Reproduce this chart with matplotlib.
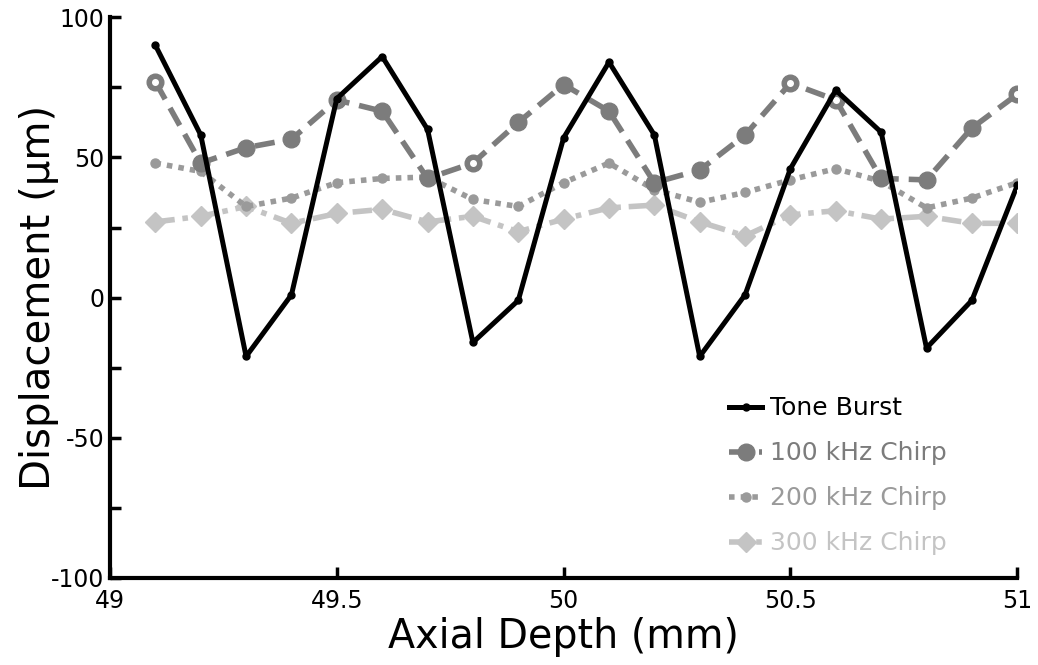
import numpy as np
import matplotlib.pyplot as plt

# Axial positions (mm) and displacement (um) for each excitation
depth = [49.1, 49.2, 49.3, 49.4, 49.5, 49.6, 49.7, 49.8, 49.9, 50.0,
         50.1, 50.2, 50.3, 50.4, 50.5, 50.6, 50.7, 50.8, 50.9, 51.0]

tone_burst = [90, 58, -21, 1, 71, 86, 60, -16, -1, 57,
              84, 58, -21, 1, 46, 74, 59, -18, -1, 40]
chirp_100 = [77, 48, 53.5, 56.5, 70.5, 66.5, 42.5, 48, 62.5, 76,
             66.5, 41, 45.5, 58, 76.5, 70.5, 42.5, 42, 60.5, 72.5]
chirp_200 = [48, 45, 32.5, 35.5, 41, 42.5, 43, 35, 32.5, 41,
             48, 38.5, 34, 37.5, 42, 46, 41.5, 32, 35.5, 41]
chirp_300 = [27, 29, 32.5, 26.5, 30, 31.5, 27, 29, 23.5, 28,
             32, 33, 27, 22, 29.5, 31, 28, 29, 26.5, 26.5]

# points of the 100 kHz series drawn with an open centre
hollow_100 = [0, 4, 7, 14, 15, 19]

x_ticks = [49, 49.5, 50, 50.5, 51]
x_labels = ['49', '49.5', '50', '50.5', '51']
y_ticks = [-100, -50, 0, 50, 100]

plt.rcParams['font.family'] = ['DejaVu Sans']
plt.rcParams['axes.unicode_minus'] = False

fig = plt.figure(figsize=(10.38, 6.65), dpi=100)
ax = fig.add_axes([0.106, 0.131, 0.874, 0.843])

c100, c200, c300 = '#7c7c7c', '#9a9a9a', '#c4c4c4'

ax.plot(depth, tone_burst, color='black', lw=3.6, marker='o', ms=5,
        label='Tone Burst', zorder=5)
ax.plot(depth, chirp_100, color=c100, lw=4, ls=(0, (3.6, 1.8)), marker='o',
        ms=12, label='100 kHz Chirp', zorder=4)
ax.plot(np.array(depth)[hollow_100], np.array(chirp_100)[hollow_100],
        ls='none', marker='o', ms=4, color='white', zorder=4.5)
ax.plot(depth, chirp_200, color=c200, lw=4, ls=(0, (1, 1.1)), marker='o',
        ms=6.5, label='200 kHz Chirp', zorder=3)
ax.plot(depth, chirp_300, color=c300, lw=4, ls=(0, (3.5, 1.4, 1, 1.4)), marker='D',
        ms=10, label='300 kHz Chirp', zorder=2)

ax.set_xlim(49, 51)
ax.set_ylim(-100, 100)
ax.set_xticks(x_ticks)
ax.set_xticklabels(x_labels)
ax.set_yticks(y_ticks)
ax.set_yticks([-75, -25, 25, 75], minor=True)

for side in ['top', 'right']:
    ax.spines[side].set_visible(False)
for side in ['left', 'bottom']:
    ax.spines[side].set_linewidth(3)

ax.tick_params(axis='both', which='both', direction='in', width=2.5,
               length=8, labelsize=17)
ax.tick_params(axis='x', which='major', pad=8)
ax.tick_params(axis='y', which='major', pad=4)

ax.set_xlabel('Axial Depth (mm)', fontsize=28.5, labelpad=3)
ax.set_ylabel('Displacement (\u03bcm)', fontsize=29, labelpad=-6)

leg = ax.legend(loc='lower left', bbox_to_anchor=(0.682, 0.04), frameon=False,
                fontsize=18, handlelength=1.35, handletextpad=0.3,
                labelspacing=0.84, borderpad=0, borderaxespad=0)
for text, col in zip(leg.get_texts(), ['black', c100, c200, c300]):
    text.set_color(col)

fig.savefig('out.png', dpi=100)
